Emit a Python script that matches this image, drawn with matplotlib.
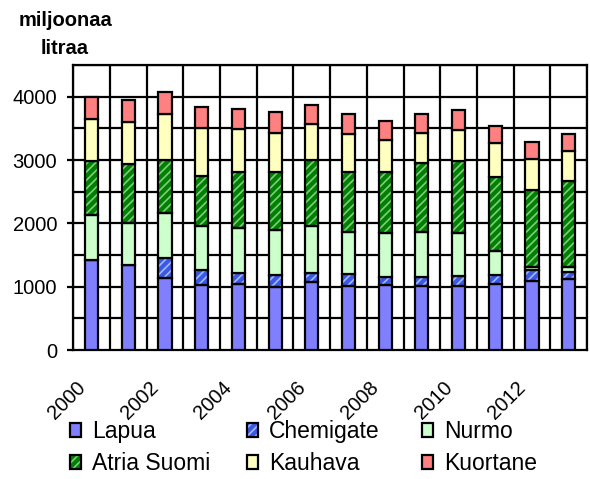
import matplotlib
matplotlib.use("Agg")
import matplotlib.pyplot as plt
from matplotlib.patches import Patch
from matplotlib.transforms import ScaledTranslation
import numpy as np

plt.rcParams['font.family'] = ['Liberation Sans', 'DejaVu Sans']
plt.rcParams['hatch.linewidth'] = 1.2

years = list(range(2000, 2014))
series_names = ["Lapua", "Chemigate", "Nurmo", "Atria Suomi", "Kauhava", "Kuortane"]
lapua     = [1421, 1342, 1132, 1026, 1042, 989, 1079, 1011, 1026, 1011, 1016, 1037, 1095, 1116]
chemigate = [0, 0, 315, 237, 179, 195, 142, 189, 121, 136, 152, 147, 168, 121]
nurmo     = [711, 658, 711, 700, 711, 711, 742, 668, 706, 721, 685, 384, 42, 79]
atria     = [852, 937, 842, 790, 884, 910, 1037, 948, 963, 1090, 1131, 1169, 1221, 1352]
kauhava   = [663, 658, 721, 758, 668, 616, 568, 595, 500, 474, 490, 526, 485, 474]
kuortane  = [353, 352, 347, 321, 321, 332, 300, 310, 300, 294, 315, 279, 278, 263]
yticks = [0, 1000, 2000, 3000, 4000]
xlabel_years = [2000, 2002, 2004, 2006, 2008, 2010, 2012]
title_text = "miljoonaa\nlitraa"

data = [lapua, chemigate, nurmo, atria, kauhava, kuortane]
faces = ["#8080FF", "#3A5AE6", "#CCFFCC", "#008000", "#FFFFC0", "#FF8080"]
hatches = [None, "////", None, "////", None, None]
hatch_cols = [None, "#A8B8FF", None, "#80CC80", None, None]

fig = plt.figure(figsize=(5.9, 4.79), dpi=100)
ax = fig.add_axes([73.3/590, 1-350/479, (587-73.3)/590, (350-65)/479])

x = np.arange(len(years))
w = 0.36
lw = 1.6
bottom = np.zeros(len(years))
for vals, fc, h, hc in zip(data, faces, hatches, hatch_cols):
    vals = np.array(vals, dtype=float)
    if h:
        ax.bar(x, vals, w, bottom=bottom, facecolor=fc, edgecolor=hc, hatch=h,
               linewidth=0, zorder=3)
        ax.bar(x, vals, w, bottom=bottom, facecolor='none', edgecolor='black',
               linewidth=lw, zorder=4)
    else:
        ax.bar(x, vals, w, bottom=bottom, facecolor=fc, edgecolor='black',
               linewidth=lw, zorder=4)
    bottom += vals

ax.set_xlim(-0.5, len(years) - 0.5)
ax.set_ylim(0, 4500)
for yv in np.arange(500, 4501, 500):
    ax.axhline(yv, color='black', lw=lw, zorder=1)
for xv in np.arange(-0.5, len(years), 1.0):
    ax.axvline(xv, color='black', lw=lw, zorder=1)
for s in ax.spines.values():
    s.set_linewidth(lw)
    s.set_color('black')

ax.set_yticks(yticks)
ax.set_yticklabels([str(v) for v in yticks], fontsize=14.5)
ax.tick_params(axis='y', length=6.5/1.389, width=lw, pad=7)
xt = [years.index(y) for y in xlabel_years]
ax.set_xticks(xt)
ax.set_xticklabels([str(y) for y in xlabel_years], fontsize=14.5, rotation=45,
                   ha='right', va='top', rotation_mode='anchor')
ax.tick_params(axis='x', length=0, pad=6)
off = ScaledTranslation(-16/100, -20/100, fig.dpi_scale_trans)
for lab in ax.get_xticklabels():
    lab.set_transform(lab.get_transform() + off)

fig.text(65/590, 1-34/479, title_text, ha='center', va='center',
         fontsize=14.5, fontweight='bold', linespacing=1.6)

def handle(i):
    if hatches[i]:
        return (Patch(facecolor=faces[i], edgecolor=hatch_cols[i], hatch=hatches[i], linewidth=0),
                Patch(facecolor='none', edgecolor='black', linewidth=lw))
    return Patch(facecolor=faces[i], edgecolor='black', linewidth=lw)

cols = [[0, 3], [1, 4], [2, 5]]
col_x = [70, 247, 422]
for cx, idxs in zip(col_x, cols):
    fig.legend([handle(i) for i in idxs], [series_names[i] for i in idxs],
               loc='upper left', bbox_to_anchor=(cx/590, 1-420/479),
               frameon=False, fontsize=16.5, handlelength=0.5, handleheight=0.55,
               handletextpad=0.45, labelspacing=0.4, borderpad=0, borderaxespad=0)

fig.savefig("out.png", dpi=100)
